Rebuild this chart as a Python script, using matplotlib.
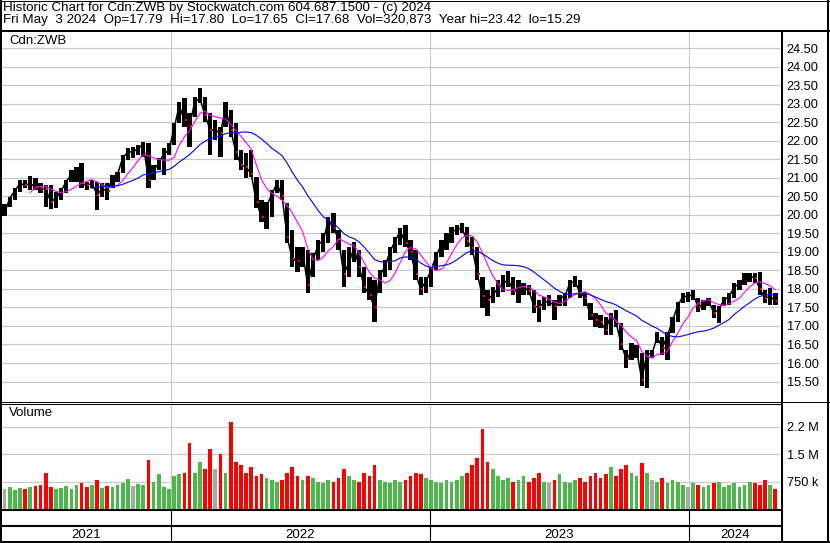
import matplotlib
matplotlib.use("Agg")
import matplotlib.pyplot as plt
from matplotlib.lines import Line2D
import numpy as np
import pandas as pd

# weekly bins of 5 sessions (Apr 2021 - May 3 2024)
wk_high = [
    20.30, 20.49, 20.72, 20.95, 20.93, 21.05, 20.99, 20.85, 20.81, 20.81,
    20.63, 20.72, 20.94, 21.21, 21.30, 21.41, 20.90, 20.94, 20.90, 20.85,
    20.85, 21.08, 21.17, 21.62, 21.80, 21.83, 21.89, 21.98, 21.93, 21.35,
    21.53, 21.80, 21.93, 22.47, 23.06, 23.15, 22.74, 23.19, 23.42, 23.19,
    22.74, 22.56, 22.38, 23.06, 22.83, 22.47, 21.75, 21.66, 21.75, 21.03,
    20.40, 20.35, 20.67, 20.94, 20.95, 20.31, 19.59, 19.14, 19.14, 19.05,
    18.96, 19.32, 19.50, 19.95, 20.04, 19.59, 19.05, 19.14, 19.28, 19.05,
    18.60, 18.33, 18.24, 18.51, 18.78, 19.14, 19.41, 19.64, 19.73, 19.32,
    19.05, 18.33, 18.33, 18.60, 19.01, 19.32, 19.50, 19.68, 19.73, 19.77,
    19.68, 19.41, 19.14, 18.33, 17.97, 18.06, 18.24, 18.38, 18.49, 18.33,
    18.25, 18.16, 18.11, 17.97, 17.70, 17.79, 17.84, 17.70, 17.84, 17.88,
    18.24, 18.35, 18.24, 17.93, 17.61, 17.34, 17.30, 17.25, 17.34, 17.43,
    17.07, 16.35, 16.53, 16.49, 16.26, 16.35, 16.35, 16.85, 16.71, 16.85,
    17.25, 17.66, 17.88, 17.93, 17.97, 17.75, 17.70, 17.75, 17.57, 17.53,
    17.79, 17.88, 18.16, 18.24, 18.42, 18.44, 18.42, 18.47, 17.97, 18.02,
    17.88]
wk_low = [
    19.98, 20.22, 20.40, 20.63, 20.72, 20.67, 20.67, 20.58, 20.22, 20.15,
    20.18, 20.40, 20.58, 20.90, 20.90, 20.72, 20.67, 20.72, 20.13, 20.49,
    20.40, 20.72, 20.90, 21.12, 21.48, 21.53, 21.62, 21.57, 20.72, 20.94,
    21.21, 21.08, 21.62, 21.89, 22.47, 22.38, 21.84, 22.65, 23.01, 22.52,
    21.62, 22.02, 21.57, 22.38, 22.11, 21.48, 21.21, 20.99, 21.03, 20.18,
    19.82, 19.62, 19.95, 20.58, 20.40, 19.23, 18.60, 18.47, 18.60, 17.90,
    18.33, 18.78, 19.01, 19.23, 19.50, 19.05, 18.06, 18.33, 18.74, 18.33,
    17.88, 17.70, 17.12, 17.88, 18.33, 18.51, 18.96, 19.19, 19.14, 18.78,
    18.24, 17.84, 17.88, 18.06, 18.51, 18.87, 19.05, 19.23, 19.46, 19.50,
    19.14, 18.92, 18.24, 17.48, 17.27, 17.61, 17.79, 17.93, 18.06, 17.84,
    17.62, 17.84, 17.84, 17.34, 17.12, 17.43, 17.53, 17.16, 17.53, 17.53,
    17.75, 18.06, 17.75, 17.53, 17.16, 16.98, 16.94, 16.76, 16.76, 16.98,
    16.35, 15.86, 16.08, 16.13, 15.37, 15.32, 16.13, 16.53, 16.22, 16.08,
    16.80, 17.12, 17.61, 17.66, 17.70, 17.39, 17.43, 17.53, 17.21, 17.09,
    17.53, 17.57, 17.75, 17.97, 18.11, 18.20, 18.16, 17.84, 17.61, 17.57,
    17.57]
wk_close = [
    20.05, 20.45, 20.65, 20.85, 20.80, 20.85, 20.75, 20.72, 20.70, 20.35,
    20.45, 20.65, 20.90, 21.10, 21.20, 20.85, 20.80, 20.85, 20.55, 20.70,
    20.65, 21.00, 21.10, 21.55, 21.70, 21.70, 21.80, 21.90, 20.95, 21.20,
    21.40, 21.65, 21.75, 22.35, 22.95, 22.55, 22.40, 23.05, 23.15, 22.70,
    22.30, 22.30, 22.20, 22.90, 22.30, 21.70, 21.35, 21.30, 21.10, 20.35,
    19.95, 20.25, 20.55, 20.85, 20.50, 19.40, 18.80, 18.75, 19.00, 18.10,
    18.75, 19.20, 19.30, 19.85, 19.65, 19.35, 18.40, 18.70, 19.10, 18.60,
    18.05, 17.85, 17.50, 18.35, 18.60, 19.00, 19.30, 19.55, 19.25, 19.00,
    18.40, 18.00, 18.20, 18.50, 18.90, 19.20, 19.40, 19.55, 19.60, 19.65,
    19.30, 19.10, 18.40, 17.80, 17.70, 17.85, 18.00, 18.15, 18.25, 17.95,
    18.00, 18.05, 17.95, 17.55, 17.50, 17.65, 17.65, 17.55, 17.75, 17.80,
    18.15, 18.20, 17.90, 17.75, 17.30, 17.15, 17.10, 16.90, 17.30, 17.10,
    16.50, 16.10, 16.30, 16.35, 15.55, 16.25, 16.25, 16.70, 16.40, 16.75,
    17.15, 17.55, 17.80, 17.80, 17.85, 17.50, 17.60, 17.70, 17.35, 17.45,
    17.70, 17.80, 18.05, 18.15, 18.30, 18.35, 18.30, 18.00, 17.75, 17.80,
    17.68]
# typical daily volume in each bin, thousands of shares
wk_vol = [
    550, 600, 520, 580, 560, 600, 620, 650, 1000, 600,
    550, 580, 620, 560, 650, 700, 600, 650, 800, 580,
    620, 600, 650, 700, 820, 620, 680, 650, 1350, 750,
    950, 600, 550, 900, 950, 1000, 1800, 1000, 1300, 1100,
    1650, 1100, 1500, 1000, 2400, 1300, 1200, 1000, 1150, 900,
    950, 850, 800, 750, 800, 1000, 1150, 900, 800, 900,
    850, 750, 700, 800, 750, 850, 1100, 900, 800, 750,
    1000, 900, 1200, 800, 750, 700, 800, 750, 800, 900,
    1000, 950, 850, 800, 750, 700, 800, 750, 800, 900,
    1000, 1200, 1400, 2200, 1300, 1100, 900, 800, 850, 750,
    800, 900, 750, 850, 1000, 750, 700, 800, 950, 750,
    700, 800, 850, 750, 900, 1000, 850, 950, 1150, 900,
    1100, 1200, 1000, 900, 1250, 1000, 800, 750, 850, 700,
    800, 750, 650, 600, 700, 650, 600, 650, 700, 750,
    600, 650, 700, 600, 650, 750, 700, 650, 800, 650,
    550]

years = ["2021", "2022", "2023", "2024"]
year_start = [0, 164, 416, 668]   # session index where each year begins
n_sessions = 758

price_ticks = [15.5 + 0.5 * i for i in range(19)]
vol_ticks = [750000, 1500000, 2250000]
vol_labels = ["750 k", "1.5 M", "2.2 M"]

header1 = "Historic Chart for Cdn:ZWB by Stockwatch.com 604.687.1500 - (c) 2024"
header2 = ("Fri May  3 2024  Op=17.79  Hi=17.80  Lo=17.65  Cl=17.68  "
           "Vol=320,873  Year hi=23.42  lo=15.29")

W, H = 830, 543
plt.rcParams['font.family'] = ['Liberation Sans', 'DejaVu Sans']
fig = plt.figure(figsize=(W / 100, H / 100), dpi=100)
fig.patch.set_facecolor("white")


def px_axes(x0, y0, x1, y1):
    return fig.add_axes([x0 / W, 1 - y1 / H, (x1 - x0) / W, (y1 - y0) / H])


def fig_line(xs, ys, lw=1.0):
    fig.add_artist(Line2D([x / W for x in xs], [1 - y / H for y in ys],
                          color="black", lw=lw * 0.72, solid_capstyle="butt"))


df = pd.DataFrame({"hi": wk_high, "lo": wk_low, "cl": wk_close, "vol": wk_vol})
df["x"] = np.arange(len(df)) * 5 + 2.5
df["ma_fast"] = df["cl"].rolling(6).mean()
df["ma_slow"] = df["cl"].rolling(18).mean()
chg = df["cl"].diff().fillna(0)
vol_colors = np.where(chg > 0, "#4cb84c", np.where(chg < 0, "#ff0000", "#a8a8a8"))

grid_col = "#c8c8c8"

# price panel
ax = px_axes(2, 31, 781, 401)
ax.set_xlim(0, n_sessions)
ax.set_ylim(14.974, 24.967)
ax.bar(df["x"], df["hi"] - df["lo"], bottom=df["lo"], width=4.2,
       color="black", linewidth=0, zorder=3)
ax.plot(df["x"], df["cl"], color="black", lw=1.1, zorder=3)
down = chg < 0
ax.plot(df["x"][down] + 1.2, df["cl"][down], ls="none", marker="s",
        ms=1.6, mew=0, color="#ff0000", zorder=4)
ax.plot(df["x"], df["ma_fast"], color="#ff00ff", lw=0.8, zorder=5)
ax.plot(df["x"], df["ma_slow"], color="#0000ff", lw=0.8, zorder=5)
ax.set_yticks(price_ticks)
ax.set_yticklabels(["%.2f" % v for v in price_ticks])
ax.set_xticks(year_start[1:])
ax.set_xticklabels([])
ax.yaxis.tick_right()
ax.tick_params(axis="both", length=0)
ax.tick_params(axis="y", pad=4, labelsize=9.2)
ax.grid(True, color=grid_col, lw=0.8)
ax.set_axisbelow(True)
for s in ax.spines.values():
    s.set_visible(False)
ax.text(7 / 779, 1 - 10 / 370, "Cdn:ZWB", transform=ax.transAxes,
        fontsize=9.5, va="center", ha="left")

# volume panel
axv = px_axes(2, 404, 781, 509)
axv.set_xlim(0, n_sessions)
axv.set_ylim(0, 2.88e6)
axv.bar(df["x"], df["vol"] * 1000, width=3.6, color=vol_colors,
        linewidth=0, zorder=3)
axv.set_yticks(vol_ticks)
axv.set_yticklabels(vol_labels)
axv.set_xticks(year_start[1:])
axv.set_xticklabels([])
axv.yaxis.tick_right()
axv.tick_params(axis="both", length=0)
axv.tick_params(axis="y", pad=4, labelsize=9.2)
axv.grid(True, color=grid_col, lw=0.8)
axv.set_axisbelow(True)
for s in axv.spines.values():
    s.set_visible(False)
axv.text(7 / 779, 1 - 9 / 105, "Volume", transform=axv.transAxes,
         fontsize=9.5, va="center", ha="left")

# time strip with year labels
axt = px_axes(2, 510, 781, 542)
axt.set_xlim(0, n_sessions)
axt.set_ylim(0, 2)
axt.axis("off")
bounds = year_start + [n_sessions]
for i, yr in enumerate(years):
    axt.text((bounds[i] + bounds[i + 1]) / 2, 0.45, yr, ha="center",
             va="center", fontsize=9.5)
axt.vlines(year_start[1:], 0, 2, color="black", lw=0.8)
axt.axhline(1.0, color="black", lw=1.5)

# header text
fig.text(3 / W, 1 - 7.5 / H, header1, fontsize=9.6, va="center", ha="left")
fig.text(3 / W, 1 - 20.5 / H, header2, fontsize=9.6, va="center", ha="left")

# frame lines
fig_line([0, W], [0.5, 0.5], 1)
fig_line([1, 1], [0, H], 2)
fig_line([W - 2, W - 2], [0, H], 2)
fig_line([0, W], [H - 1, H - 1], 2)
fig_line([0, W], [30.5, 30.5], 2)
fig_line([781.5, 781.5], [30, H], 2)
fig_line([0, W], [401.5, 401.5], 1)
fig_line([0, 781], [403.5, 403.5], 1)
fig_line([0, 781], [510, 510], 2)

fig.savefig("out.png", dpi=100, facecolor="white")
